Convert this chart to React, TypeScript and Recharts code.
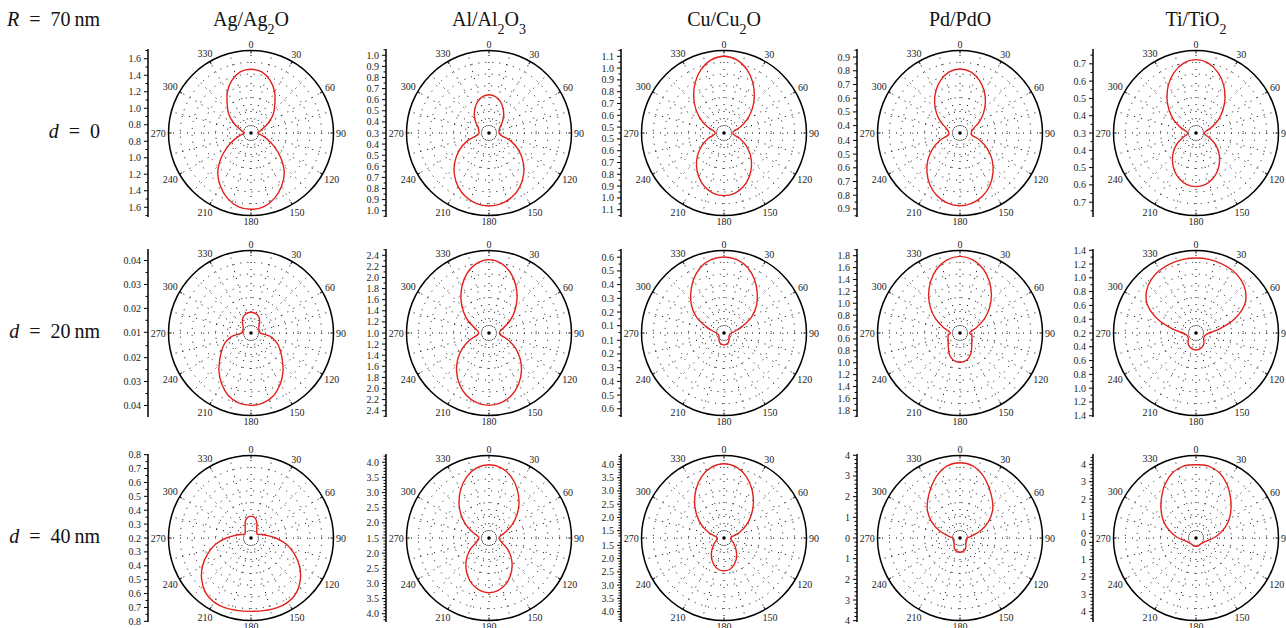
import React from "react";
import {
  RadarChart,
  Radar,
  PolarGrid,
  PolarAngleAxis,
  PolarRadiusAxis,
  LineChart,
  Line,
  XAxis,
  YAxis,
} from "recharts";

// ---------- labels ----------
const materials = ["Ag/Ag_2O", "Al/Al_2O_3", "Cu/Cu_2O", "Pd/PdO", "Ti/TiO_2"];
const distances = ["0", "20\u2009nm", "40\u2009nm"];
const particleRadius = "70\u2009nm";

// polar angles (deg, clockwise from top) of the half pattern; the other half is its mirror image
const angles = [0, 10, 20, 30, 40, 50, 60, 70, 80, 90, 100, 110, 120, 130, 140, 150, 160, 170, 180];
const angleLabels = [0, 30, 60, 90, 120, 150, 180, 210, 240, 270, 300, 330];

// ---------- values (radius at each angle of `angles`) ----------
const agD0 = [1.472, 1.452, 1.378, 1.273, 1.148, 1.052, 0.942, 0.849, 0.805, 0.781, 0.821, 0.902, 1.024, 1.173, 1.327, 1.443, 1.54, 1.605, 1.625];
const alD0 = [0.645, 0.633, 0.6, 0.554, 0.505, 0.458, 0.417, 0.399, 0.393, 0.39, 0.408, 0.508, 0.608, 0.701, 0.785, 0.857, 0.912, 0.946, 0.958];
const cuD0 = [1.1, 1.079, 1.021, 0.94, 0.85, 0.761, 0.675, 0.597, 0.535, 0.526, 0.535, 0.595, 0.668, 0.742, 0.813, 0.878, 0.933, 0.969, 0.981];
const pdD0 = [0.813, 0.799, 0.757, 0.699, 0.634, 0.569, 0.508, 0.455, 0.434, 0.428, 0.434, 0.501, 0.577, 0.652, 0.721, 0.784, 0.834, 0.866, 0.877];
const tiD0 = [0.724, 0.71, 0.672, 0.62, 0.561, 0.502, 0.447, 0.395, 0.358, 0.348, 0.355, 0.384, 0.427, 0.471, 0.512, 0.55, 0.582, 0.603, 0.61];

const agD20 = [0.01836, 0.01819, 0.01765, 0.01669, 0.01522, 0.01397, 0.01347, 0.01326, 0.01338, 0.01355, 0.01786, 0.02112, 0.02372, 0.02673, 0.03054, 0.03426, 0.03752, 0.03941, 0.03995];
const alD20 = [2.321, 2.274, 2.148, 1.973, 1.784, 1.602, 1.432, 1.279, 1.207, 1.186, 1.216, 1.369, 1.553, 1.735, 1.908, 2.065, 2.193, 2.274, 2.303];
const cuD20 = [0.602, 0.591, 0.554, 0.494, 0.425, 0.356, 0.279, 0.189, 0.131, 0.102, 0.0915, 0.09, 0.089, 0.094, 0.104, 0.117, 0.127, 0.132, 0.135];
const pdD20 = [1.789, 1.75, 1.645, 1.493, 1.322, 1.144, 0.972, 0.811, 0.702, 0.66, 0.702, 0.713, 0.73, 0.76, 0.805, 0.875, 0.94, 0.98, 0.992];
const tiD20 = [1.287, 1.284, 1.272, 1.251, 1.212, 1.139, 1.012, 0.794, 0.548, 0.388, 0.345, 0.333, 0.333, 0.343, 0.38, 0.409, 0.429, 0.442, 0.446];

const agD40 = [0.356, 0.35, 0.322, 0.283, 0.265, 0.255, 0.253, 0.275, 0.312, 0.378, 0.459, 0.531, 0.603, 0.664, 0.711, 0.733, 0.736, 0.731, 0.728];
const alD40 = [3.919, 3.847, 3.649, 3.361, 3.041, 2.708, 2.384, 2.078, 1.88, 1.83, 1.863, 1.955, 2.196, 2.441, 2.688, 2.919, 3.12, 3.256, 3.305];
const cuD40 = [4.026, 3.936, 3.687, 3.336, 2.948, 2.563, 2.197, 1.853, 1.544, 1.476, 1.487, 1.544, 1.657, 1.789, 1.959, 2.147, 2.31, 2.43, 2.46];
const pdD40 = [3.638, 3.541, 3.227, 2.812, 2.425, 2.058, 1.594, 1.072, 0.589, 0.338, 0.319, 0.309, 0.333, 0.377, 0.44, 0.556, 0.633, 0.676, 0.691];
const tiD40 = [3.98, 3.962, 3.737, 3.328, 2.837, 2.387, 1.972, 1.539, 1.106, 0.76, 0.471, 0.327, 0.258, 0.212, 0.189, 0.2, 0.217, 0.229, 0.229];

// ---------- radial tick labels ----------
const agD0Ticks = [0.8, 1.0, 1.2, 1.4, 1.6];
const alD0Ticks = [0.3, 0.4, 0.5, 0.6, 0.7, 0.8, 0.9, 1.0];
const cuD0Ticks = [0.5, 0.6, 0.7, 0.8, 0.9, 1.0, 1.1];
const pdD0Ticks = [0.4, 0.5, 0.6, 0.7, 0.8, 0.9];
const tiD0Ticks = [0.3, 0.4, 0.5, 0.6, 0.7];
const agD20Ticks = [0.01, 0.02, 0.03, 0.04];
const alD20Ticks = [1.0, 1.2, 1.4, 1.6, 1.8, 2.0, 2.2, 2.4];
const cuD20Ticks = [0.1, 0.2, 0.3, 0.4, 0.5, 0.6];
const pdD20Ticks = [0.6, 0.8, 1.0, 1.2, 1.4, 1.6, 1.8];
const tiD20Ticks = [0.2, 0.4, 0.6, 0.8, 1.0, 1.2, 1.4];
const agD40Ticks = [0.2, 0.3, 0.4, 0.5, 0.6, 0.7, 0.8];
const alD40Ticks = [1.5, 2.0, 2.5, 3.0, 3.5, 4.0];
const cuD40Ticks = [1.5, 2.0, 2.5, 3.0, 3.5, 4.0];
const pdD40Ticks = [0, 1, 2, 3, 4];
const tiD40Ticks = [0, 1, 2, 3, 4];

type Panel = {
  values: number[];
  r0: number;
  rMax: number;
  ticks: number[];
  minor: number;
  digits: number;
};

const panels: Panel[][] = [
  [
    { values: agD0, r0: 0.7, rMax: 1.7, ticks: agD0Ticks, minor: 0.1, digits: 1 },
    { values: alD0, r0: 0.3, rMax: 1.043, ticks: alD0Ticks, minor: 0.05, digits: 1 },
    { values: cuD0, r0: 0.45, rMax: 1.149, ticks: cuD0Ticks, minor: 0.05, digits: 1 },
    { values: pdD0, r0: 0.346, rMax: 0.948, ticks: pdD0Ticks, minor: 0.05, digits: 1 },
    { values: tiD0, r0: 0.3, rMax: 0.777, ticks: tiD0Ticks, minor: 0.05, digits: 1 },
  ],
  [
    { values: agD20, r0: 0.0097, rMax: 0.0442, ticks: agD20Ticks, minor: 0.005, digits: 2 },
    { values: alD20, r0: 1.0, rMax: 2.486, ticks: alD20Ticks, minor: 0.1, digits: 1 },
    { values: cuD20, r0: 0.047, rMax: 0.649, ticks: cuD20Ticks, minor: 0.05, digits: 1 },
    { values: pdD20, r0: 0.5, rMax: 1.887, ticks: pdD20Ticks, minor: 0.1, digits: 1 },
    { values: tiD20, r0: 0.2, rMax: 1.396, ticks: tiD20Ticks, minor: 0.1, digits: 1 },
  ],
  [
    { values: agD40, r0: 0.2, rMax: 0.794, ticks: agD40Ticks, minor: 0.05, digits: 1 },
    { values: alD40, r0: 1.5, rMax: 4.223, ticks: alD40Ticks, minor: 0.1, digits: 1 },
    { values: cuD40, r0: 1.223, rMax: 4.336, ticks: cuD40Ticks, minor: 0.1, digits: 1 },
    { values: pdD40, r0: 0, rMax: 3.991, ticks: pdD40Ticks, minor: 0.2, digits: 0 },
    { values: tiD40, r0: -0.25, rMax: 4.51, ticks: tiD40Ticks, minor: 0.2, digits: 0 },
  ],
];

// ---------- layout / style ----------
const COL_X = [251, 489, 724, 960, 1196];
const ROW_Y = [133, 333, 538];
const R = 82.5;
const AXIS_HALF = 84;
const AXIS_OFFSET = 103;
const RED = "#e3201b";
const FONT = "'Liberation Serif', 'DejaVu Serif', serif";
const CW = 240;
const CH = 220;

const smoothPath = (pts: { x: number; y: number }[]) => {
  const n = pts.length;
  if (!n) return "";
  let d = `M${pts[0].x},${pts[0].y}`;
  for (let i = 0; i < n; i++) {
    const p0 = pts[(i - 1 + n) % n];
    const p1 = pts[i];
    const p2 = pts[(i + 1) % n];
    const p3 = pts[(i + 2) % n];
    const c1x = p1.x + (p2.x - p0.x) / 6;
    const c1y = p1.y + (p2.y - p0.y) / 6;
    const c2x = p2.x - (p3.x - p1.x) / 6;
    const c2y = p2.y - (p3.y - p1.y) / 6;
    d += ` C${c1x},${c1y} ${c2x},${c2y} ${p2.x},${p2.y}`;
  }
  return d + "Z";
};

// table for the radar: the full circle (mirror of the half pattern), with each radius
// expressed as its position inside the panel's radial range [r0, rMax]
const buildData = (panel: Panel) => {
  const rows: { angle: number; r: number }[] = [];
  for (let i = 0; i < 36; i++) {
    const a = i * 10;
    const idx = angles.indexOf(a <= 180 ? a : 360 - a);
    rows.push({ angle: a, r: (panel.values[idx] - panel.r0) / (panel.rMax - panel.r0) });
  }
  return rows;
};

const makeAngleTick = (cx: number, cy: number) => (props: any) => {
  const { payload, index } = props;
  const theta = Number(payload.value);
  const dot =
    index === 0 ? <circle cx={cx} cy={cy} r={1.8} fill="#000" /> : null;
  if (!angleLabels.includes(theta)) return <g>{dot}</g>;
  const rad = (theta * Math.PI) / 180;
  const ux = Math.sin(rad);
  const uy = -Math.cos(rad);
  const w = String(theta).length * 5.1;
  const h = 7;
  const ext = (Math.abs(ux) * w) / 2 + (Math.abs(uy) * h) / 2;
  const d = R + 2.5 + ext;
  return (
    <g>
      {dot}
      <line
        x1={cx + ux * R}
        y1={cy + uy * R}
        x2={cx + ux * (R - 3)}
        y2={cy + uy * (R - 3)}
        stroke="#000"
        strokeWidth={1}
      />
      <text
        x={cx + ux * d}
        y={cy + uy * d}
        textAnchor="middle"
        dominantBaseline="central"
        fontSize={10}
        fontFamily={FONT}
        fill="#222"
      >
        {theta}
      </text>
    </g>
  );
};

const PolarPanel = ({ panel, x, y }: { panel: Panel; x: number; y: number }) => {
  const data = buildData(panel);
  const cx = CW / 2;
  const cy = CH / 2;
  const rings = [1, 2, 3, 4, 5, 6].map((k) => (R * k) / 7);
  const spokes = Array.from({ length: 24 }, (_, i) => i * 15);
  return (
    <div style={{ position: "absolute", left: x - cx, top: y - cy }}>
      <RadarChart
        width={CW}
        height={CH}
        data={data}
        cx={cx}
        cy={cy}
        outerRadius={R}
        innerRadius={0}
        startAngle={90}
        endAngle={-270}
        margin={{ top: 0, right: 0, bottom: 0, left: 0 }}
      >
        <PolarGrid
          gridType="circle"
          polarRadius={rings}
          polarAngles={spokes}
          stroke="#000"
          strokeWidth={1}
          strokeDasharray="1 6"
        />
        <PolarAngleAxis
          dataKey="angle"
          axisLineType="circle"
          axisLine={{ stroke: "#000", strokeWidth: 1.5 }}
          tickLine={false}
          tick={makeAngleTick(cx, cy)}
        />
        <PolarRadiusAxis
          type="number"
          domain={[0, 1]}
          ticks={[0, 0.25, 0.5, 0.75, 1]}
          allowDataOverflow
          axisLine={false}
          tick={false}
          tickLine={false}
        />
        <Radar
          dataKey="r"
          stroke={RED}
          fill="none"
          isAnimationActive={false}
          dot={false}
          shape={(p: any) => (
            <path d={smoothPath(p.points || [])} fill="none" stroke={RED} strokeWidth={1.4} />
          )}
        />
      </RadarChart>
    </div>
  );
};

const SideAxis = ({ panel, x, y }: { panel: Panel; x: number; y: number }) => {
  const span = ((panel.rMax - panel.r0) * AXIS_HALF) / R;
  const pxPerUnit = R / (panel.rMax - panel.r0);
  const items: { s: number; label: string; major: boolean }[] = [];
  const add = (t: number, major: boolean) => {
    const s = t - panel.r0;
    if (s < -1e-9 || s > span + 1e-9) return;
    const label = t.toFixed(panel.digits);
    // a tick lying at (or within a couple of pixels of) the centre is drawn once
    const signs = Math.abs(s) * pxPerUnit < 3 ? [1] : [1, -1];
    for (const sign of signs) {
      const v = sign * s;
      if (items.some((it) => Math.abs(it.s - v) < 1e-9)) continue;
      items.push({ s: v, label, major });
    }
  };
  panel.ticks.forEach((t) => add(t, true));
  const kStart = Math.ceil(panel.r0 / panel.minor - 1e-6);
  const kEnd = Math.floor((panel.r0 + span) / panel.minor + 1e-6);
  for (let k = kStart; k <= kEnd; k++) {
    const t = k * panel.minor;
    if (panel.ticks.some((m) => Math.abs(m - t) < panel.minor / 10)) continue;
    add(t, false);
  }
  const AX = 50;
  const tick = (props: any) => {
    const v = props.payload.value;
    const it = items.find((q) => Math.abs(q.s - v) < 1e-9);
    if (!it) return <g />;
    const yy = props.y;
    return (
      <g>
        <line x1={AX} x2={AX - (it.major ? 4 : 2.5)} y1={yy} y2={yy} stroke="#000" strokeWidth={1} />
        {it.major ? (
          <text
            x={AX - 7}
            y={yy}
            textAnchor="end"
            dominantBaseline="central"
            fontSize={10}
            fontFamily={FONT}
            fill="#222"
          >
            {it.label}
          </text>
        ) : null}
      </g>
    );
  };
  const H = AXIS_HALF * 2 + 20;
  return (
    <div style={{ position: "absolute", left: x - AXIS_OFFSET - AX, top: y - AXIS_HALF - 10 }}>
      <LineChart width={62} height={H} data={[{ v: 0 }]} margin={{ top: 10, right: 12, bottom: 10, left: 0 }}>
        <XAxis hide />
        <YAxis
          type="number"
          domain={[-span, span]}
          allowDataOverflow
          ticks={items.map((it) => it.s)}
          interval={0}
          tick={tick}
          tickLine={false}
          axisLine={{ stroke: "#000", strokeWidth: 1.5 }}
          width={AX}
        />
        <Line dataKey="v" stroke="none" dot={false} isAnimationActive={false} />
      </LineChart>
    </div>
  );
};

const Title = ({ text, x }: { text: string; x: number }) => {
  const parts = text.split(/_(\d)/);
  return (
    <text x={x} y={26} textAnchor="middle" fontSize={20} fontFamily={FONT} fill="#111">
      {parts.map((p, i) =>
        i % 2 === 1 ? (
          <tspan key={i} baselineShift="sub" fontSize={14}>
            {p}
          </tspan>
        ) : (
          <tspan key={i}>{p}</tspan>
        )
      )}
    </text>
  );
};

export default function App() {
  return (
    <div
      style={{
        position: "absolute",
        left: 0,
        top: 0,
        width: 1286,
        height: 628,
        background: "#fff",
        overflow: "hidden",
      }}
    >
      <svg width={1286} height={628} style={{ position: "absolute", left: 0, top: 0 }}>
        <text x={100} y={26} textAnchor="end" fontSize={20} fontFamily={FONT} fill="#111">
          <tspan fontStyle="italic">R</tspan>
          {"\u2002=\u2002" + particleRadius}
        </text>
        {materials.map((m, i) => (
          <Title key={m} text={m} x={COL_X[i]} />
        ))}
        {distances.map((d, j) => (
          <text key={d} x={100} y={ROW_Y[j] + 5} textAnchor="end" fontSize={20} fontFamily={FONT} fill="#111">
            <tspan fontStyle="italic">d</tspan>
            {"\u2002=\u2002" + d}
          </text>
        ))}
      </svg>
      {panels.map((row, j) =>
        row.map((p, i) => (
          <React.Fragment key={`${j}-${i}`}>
            <PolarPanel panel={p} x={COL_X[i]} y={ROW_Y[j]} />
            <SideAxis panel={p} x={COL_X[i]} y={ROW_Y[j]} />
          </React.Fragment>
        ))
      )}
    </div>
  );
}
